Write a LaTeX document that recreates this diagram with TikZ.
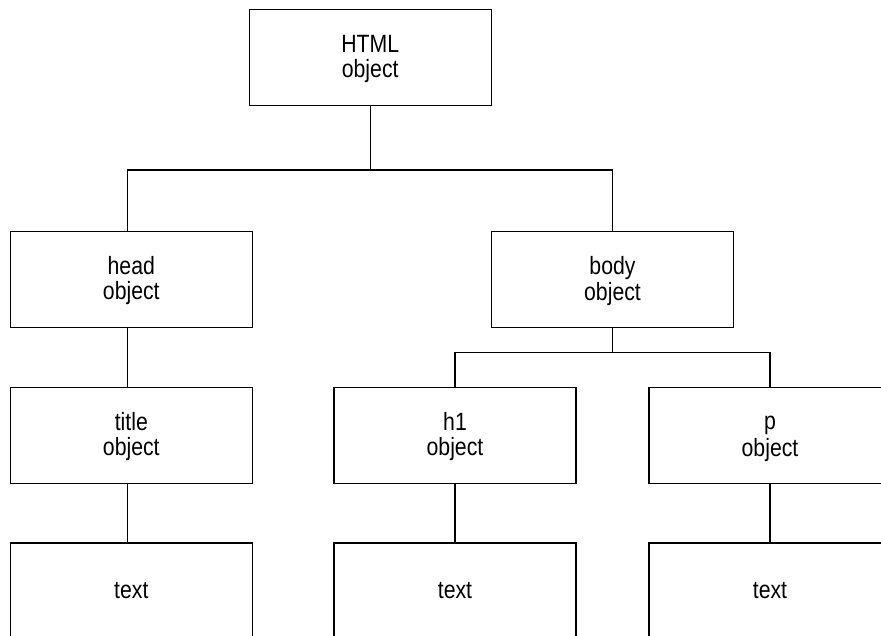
\documentclass[tikz,border=0pt]{standalone}
\usepackage{fontspec}
\setmainfont[FakeStretch=0.85]{Liberation Sans}
\newcommand{\ostrut}{\rule[-5pt]{0pt}{25pt}}
\begin{document}
\begin{tikzpicture}[x=1pt,y=-1pt,line width=1.1pt,
  obj/.style={draw,rectangle,minimum width=242pt,minimum height=96pt,inner sep=0pt,
    align=center,font=\fontsize{25}{25}\selectfont}]
  \useasboundingbox (0,0) rectangle (881,635);
  \clip (0,0) rectangle (881,635);
  \node[obj] (html) at (370.2,57.3) {\ostrut HTML\\\ostrut object};
  \node[obj] (head) at (131.3,279.7) {\ostrut head\\\ostrut object};
  \node[obj] (body) at (612.5,279.7) {\ostrut body\\\ostrut object};
  \node[obj] (title) at (131.3,435.5) {\ostrut title\\\ostrut object};
  \node[obj] (h1) at (455,435.5) {\ostrut h1\\\ostrut object};
  \node[obj] (p) at (770,435.5) {\ostrut p\\\ostrut object};
  \node[obj] (t1) at (131.3,591) {\ostrut text};
  \node[obj] (t2) at (455,591) {\ostrut text};
  \node[obj] (t3) at (770,591) {\ostrut text};
  \coordinate (j1) at (370.2,170);
  \coordinate (j2) at (612.5,352.3);

  \draw (html.south) -- (j1) -| ([xshift=-3.5pt]head.north);
  \draw (j1) -| (body.north);
  \draw (body.south) -- (j2) -| (h1.north);
  \draw (j2) -| (p.north);
  \draw ([xshift=-3.5pt]head.south) -- ([xshift=-3.5pt]title.north);
  \draw ([xshift=-3.5pt]title.south) -- ([xshift=-3.5pt]t1.north);
  \draw (h1) -- (t2);
  \draw (p) -- (t3);
\end{tikzpicture}
\end{document}
